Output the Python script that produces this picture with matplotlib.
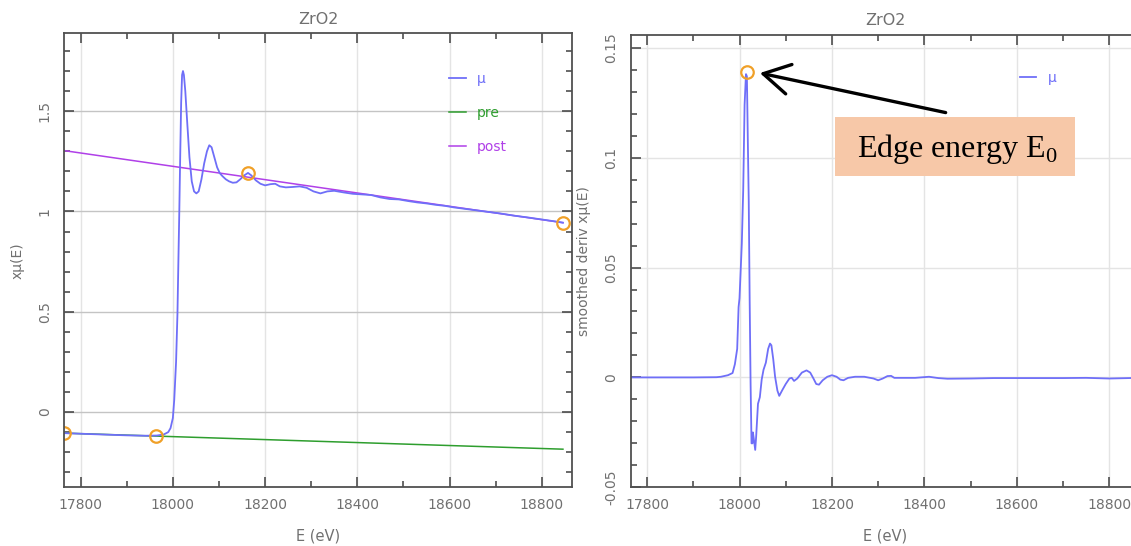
import numpy as np
import matplotlib
matplotlib.use("Agg")
import matplotlib.pyplot as plt
from matplotlib.patches import Rectangle
from matplotlib.ticker import MultipleLocator, FuncFormatter

# ---- data ----
# left panel: normalized mu(E) with pre/post-edge lines
energy = [17765, 17800, 17850, 17900, 17940, 17965, 17980, 17990, 17995, 18000,
          18003, 18007, 18010, 18012, 18014, 18016, 18018, 18020, 18022, 18024,
          18027, 18031, 18036, 18041, 18046, 18051, 18056, 18062, 18068, 18074,
          18079, 18084, 18090, 18096, 18102, 18108, 18115, 18122, 18130, 18138,
          18146, 18155, 18163, 18170, 18180, 18190, 18200, 18212, 18222, 18232,
          18245, 18260, 18275, 18290, 18305, 18320, 18335, 18350, 18370, 18390,
          18410, 18430, 18450, 18470, 18490, 18510, 18530, 18550, 18570, 18590,
          18610, 18630, 18650, 18680, 18710, 18740, 18770, 18800, 18830, 18846]
mu = [-0.105, -0.108, -0.112, -0.116, -0.118, -0.117, -0.112, -0.100, -0.080, -0.030,
      0.06, 0.25, 0.49, 0.75, 1.00, 1.28, 1.54, 1.68, 1.70, 1.68,
      1.60, 1.45, 1.27, 1.15, 1.10, 1.09, 1.10, 1.16, 1.24, 1.30,
      1.33, 1.32, 1.27, 1.22, 1.19, 1.175, 1.16, 1.15, 1.143, 1.145,
      1.16, 1.18, 1.192, 1.18, 1.155, 1.138, 1.13, 1.136, 1.138, 1.125,
      1.12, 1.122, 1.125, 1.118, 1.10, 1.09, 1.10, 1.103, 1.095, 1.088,
      1.085, 1.082, 1.07, 1.062, 1.06, 1.052, 1.045, 1.04, 1.033, 1.028,
      1.02, 1.014, 1.008, 0.999, 0.99, 0.979, 0.97, 0.96, 0.95, 0.944]

pre_e = [17765, 18846]
pre_v = [-0.105, -0.185]
post_e = [17765, 18846]
post_v = [1.303, 0.944]

marks_e = [17765, 17963, 18163, 18846]
marks_v = [-0.105, -0.118, 1.192, 0.944]

# right panel: smoothed derivative
d_energy = [17765, 17900, 17950, 17960, 17975, 17985, 17990, 17995, 17998, 18000,
            18005, 18008, 18011, 18014, 18016, 18018, 18020, 18022, 18024, 18026,
            18028, 18029, 18031, 18034, 18036, 18040, 18044, 18048, 18052, 18057,
            18062, 18066, 18069, 18073, 18077, 18082, 18086, 18092, 18100, 18108,
            18113, 18118, 18125, 18135, 18145, 18153, 18160, 18166, 18172, 18180,
            18190, 18200, 18210, 18218, 18225, 18235, 18250, 18270, 18290, 18300,
            18310, 18320, 18328, 18335, 18350, 18380, 18410, 18430, 18450, 18500,
            18550, 18600, 18650, 18700, 18750, 18800, 18865]
deriv = [0.0, 0.0, 0.0001, 0.0003, 0.001, 0.002, 0.006, 0.013, 0.032, 0.036,
         0.061, 0.085, 0.124, 0.138, 0.137, 0.108, 0.080, 0.035, -0.003, -0.030,
         -0.030, -0.025, -0.028, -0.033, -0.027, -0.012, -0.009, -0.001, 0.0035, 0.0067,
         0.013, 0.0154, 0.0146, 0.0083, 0.0003, -0.006, -0.0084, -0.006, -0.003, -0.0005,
         -0.0002, -0.0016, -0.0005, 0.0022, 0.0032, 0.0022, -0.0005, -0.003, -0.0033, -0.0013,
         0.0003, 0.001, 0.0003, -0.001, -0.0013, -0.0002, 0.0003, 0.0003, -0.0005, -0.0013,
         -0.0005, 0.0006, 0.0007, -0.0002, -0.0002, -0.0002, 0.0003, -0.0003, -0.0006, -0.0005,
         -0.0003, -0.0003, -0.0003, -0.0003, -0.0002, -0.0005, -0.0002]

e0 = 18016
e0_val = 0.139

# ---- style ----
plt.rcParams["font.family"] = ["DejaVu Sans"]
plt.rcParams["mathtext.fontset"] = "custom"
plt.rcParams["mathtext.rm"] = "Liberation Serif"
FS = 10

GRAY = "#707070"
MU = "#6f6ff8"
PRE = "#2e9e2e"
POST = "#b040e8"
ORANGE = "#f0a028"


def style_axes(ax, ymajor, yminor, ygrid):
    ax.set_xlim(17764.6, 18865)
    ax.xaxis.set_major_locator(MultipleLocator(200))
    ax.xaxis.set_minor_locator(MultipleLocator(100))
    ax.yaxis.set_major_locator(MultipleLocator(ymajor))
    ax.yaxis.set_minor_locator(MultipleLocator(yminor))
    ax.yaxis.set_major_formatter(FuncFormatter(lambda v, p: f"{v:g}"))
    ax.tick_params(which="both", direction="in", top=True, right=True,
                   color="#404040", width=1.1, labelcolor=GRAY, labelsize=FS)
    ax.tick_params(which="major", length=7)
    ax.tick_params(which="minor", length=4)
    ax.tick_params(axis="x", pad=8)
    ax.tick_params(axis="y", labelrotation=90, pad=9)
    for s in ax.spines.values():
        s.set_color("#505050")
        s.set_linewidth(1.3)
    ax.grid(True, axis="x", color="#e4e4e4", lw=1.0)
    ax.grid(True, axis="y", color=ygrid, lw=1.0)
    ax.set_axisbelow(True)
    ax.set_xlabel("E (eV)", color=GRAY, fontsize=FS + 0.5)
    ax.xaxis.set_label_coords(0.5, (487.3 - 528) / 452)
    ax.set_title("ZrO2", color=GRAY, fontsize=FS + 1.5, pad=7)


fig = plt.figure(figsize=(11.31, 5.46), dpi=100)

# left panel
ax1 = fig.add_axes([64.3 / 1131, (546 - 487.3) / 546, 507.4 / 1131, 454 / 546])
ax1.plot(pre_e, pre_v, color=PRE, lw=1.1, label="pre")
ax1.plot(post_e, post_v, color=POST, lw=1.1, label="post")
ax1.plot(energy, mu, color=MU, lw=1.3, label="μ")
ax1.plot(marks_e, marks_v, "o", ms=9, mfc="none", mec=ORANGE, mew=1.6)
ax1.set_ylim(-0.375, 1.888)
style_axes(ax1, 0.5, 0.1, "#c4c4c4")
for lab in ax1.get_yticklabels():
    lab.set_va("center")
ax1.set_ylabel("xμ(E)", color=GRAY, fontsize=FS)
ax1.yaxis.set_label_coords(-0.079, 0.5)
h, l = ax1.get_legend_handles_labels()
order = [2, 0, 1]
ax1.legend([h[i] for i in order], [l[i] for i in order], loc="upper left",
           bbox_to_anchor=(0.745, 0.93), frameon=False, handlelength=1.2,
           handletextpad=0.8, labelspacing=1.45, fontsize=FS,
           labelcolor="linecolor", borderpad=0)

# right panel
ax2 = fig.add_axes([630.7 / 1131, (546 - 487.3) / 546, 508.6 / 1131, 452.3 / 546])
ax2.plot(d_energy, deriv, color=MU, lw=1.3, label="μ")
ax2.plot([e0], [e0_val], "o", ms=9, mfc="none", mec=ORANGE, mew=1.6)
ax2.set_ylim(-0.05, 0.1558)
style_axes(ax2, 0.05, 0.01, "#e4e4e4")
ax2.tick_params(which="both", right=False)
ax2.set_yticks([-0.05, 0, 0.05, 0.1, 0.15])
for lab in ax2.get_yticklabels():
    lab.set_va("center")
ax2.set_ylabel("smoothed deriv xμ(E)", color=GRAY, fontsize=FS)
ax2.yaxis.set_label_coords(-0.079, 0.5)
ax2.legend(loc="upper left", bbox_to_anchor=(0.751, 0.935), frameon=False,
           handlelength=1.2, handletextpad=0.8, fontsize=FS,
           labelcolor="linecolor", borderpad=0)

ax2.annotate("", xy=(18044, 0.1385), xytext=(18446, 0.1205),
             arrowprops=dict(arrowstyle="->, head_length=0.7, head_width=0.4",
                             lw=2.4, color="black", mutation_scale=27,
                             shrinkA=0, shrinkB=0))

# edge energy label box
fig.patches.append(Rectangle((835 / 1131, (546 - 176) / 546), 240 / 1131, 59 / 546,
                             transform=fig.transFigure, facecolor="#f7c8a8",
                             edgecolor="none", zorder=5))
fig.text(857 / 1131, (546 - 157) / 546, r"Edge energy E$_\mathrm{0}$",
         family="Liberation Serif", fontsize=23, color="black",
         ha="left", va="baseline", zorder=6)

fig.savefig("out.png", dpi=100)
